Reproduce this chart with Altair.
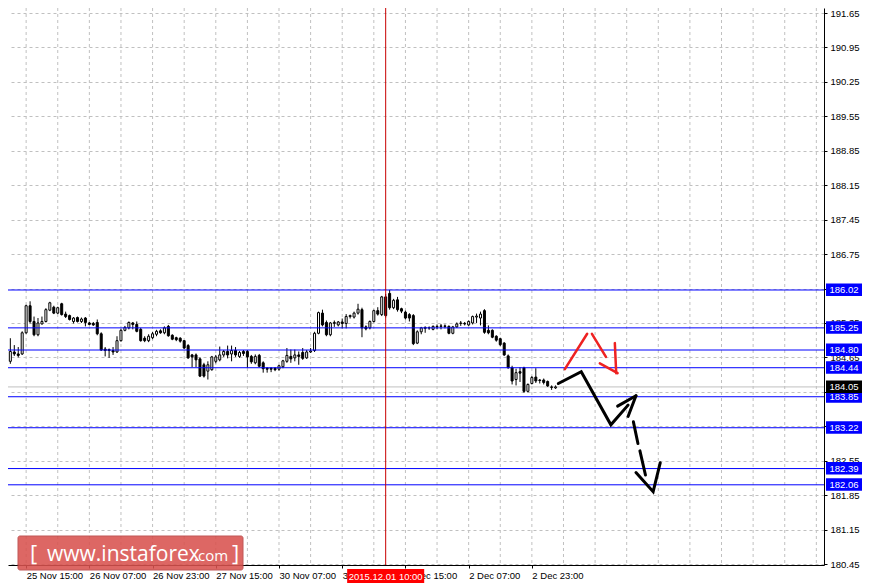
import altair as alt
import pandas as pd

# ---------------- data ----------------
opens = [184.48, 184.57, 184.76, 184.72, 184.72, 185.15, 185.70, 185.38, 185.11, 185.33,
         185.38, 185.61, 185.67, 185.55, 185.74, 185.53, 185.50, 185.38, 185.46, 185.38,
         185.45, 185.35, 185.34, 185.36, 185.13, 184.82, 184.81, 184.79, 184.76, 184.99,
         185.20, 185.25, 185.35, 185.32, 185.22, 185.04, 184.99, 185.05, 185.12, 185.19,
         185.15, 185.28, 185.10, 185.05, 185.04, 184.99, 184.89, 184.70, 184.70, 184.62,
         184.50, 184.37, 184.40, 184.57, 184.60, 184.70, 184.77, 184.72, 184.79, 184.67,
         184.77, 184.77, 184.67, 184.54, 184.69, 184.54, 184.43, 184.43, 184.43, 184.41,
         184.46, 184.57, 184.67, 184.64, 184.70, 184.75, 184.64, 184.76, 184.79, 185.14,
         185.55, 185.36, 185.11, 185.34, 185.31, 185.37, 185.34, 185.48, 185.47, 185.55,
         185.62, 185.27, 185.25, 185.38, 185.60, 185.52, 185.88, 185.95, 185.66, 185.82,
         185.64, 185.57, 185.52, 185.50, 184.94, 185.17, 185.24, 185.25, 185.22, 185.27,
         185.28, 185.29, 185.28, 185.14, 185.27, 185.34, 185.34, 185.31, 185.35, 185.47,
         185.45, 185.60, 185.20, 185.20, 185.08, 185.03, 184.94, 184.68, 184.44, 184.20,
         184.36, 184.44, 183.96, 184.12, 184.25, 184.19, 184.19, 184.16, 184.05, 184.03]
highs = [184.67, 185.04, 184.90, 184.86, 185.18, 185.72, 185.79, 185.48, 185.45, 185.48,
         185.65, 185.78, 185.70, 185.68, 185.76, 185.58, 185.52, 185.47, 185.48, 185.46,
         185.47, 185.37, 185.37, 185.42, 185.16, 184.86, 184.83, 184.86, 185.08, 185.23,
         185.29, 185.38, 185.37, 185.38, 185.25, 185.08, 185.12, 185.17, 185.21, 185.22,
         185.28, 185.31, 185.12, 185.07, 185.06, 185.00, 184.92, 184.72, 184.73, 184.65,
         184.54, 184.57, 184.68, 184.70, 184.87, 184.80, 184.89, 184.89, 184.86, 184.78,
         184.80, 184.80, 184.70, 184.71, 184.72, 184.57, 184.45, 184.45, 184.45, 184.50,
         184.60, 184.84, 184.81, 184.81, 184.77, 184.84, 184.80, 184.84, 185.17, 185.58,
         185.62, 185.40, 185.37, 185.40, 185.39, 185.44, 185.53, 185.52, 185.58, 185.74,
         185.66, 185.30, 185.40, 185.62, 185.67, 185.90, 185.94, 186.02, 185.84, 185.88,
         185.66, 185.60, 185.55, 185.53, 185.20, 185.27, 185.28, 185.28, 185.30, 185.32,
         185.33, 185.32, 185.30, 185.29, 185.36, 185.39, 185.37, 185.40, 185.50, 185.54,
         185.58, 185.63, 185.30, 185.22, 185.10, 185.05, 184.96, 184.71, 184.48, 184.42,
         184.45, 184.46, 184.12, 184.27, 184.43, 184.21, 184.22, 184.18, 184.08, 184.08]
lows = [184.45, 184.52, 184.68, 184.65, 184.70, 185.13, 185.34, 185.08, 185.08, 185.32,
        185.36, 185.59, 185.53, 185.53, 185.50, 185.45, 185.40, 185.34, 185.36, 185.35,
        185.28, 185.30, 185.29, 185.10, 184.78, 184.67, 184.64, 184.70, 184.74, 184.97,
        185.18, 185.22, 185.22, 185.16, 184.97, 184.96, 184.96, 185.02, 185.08, 185.13,
        185.12, 185.07, 185.00, 184.98, 184.95, 184.82, 184.62, 184.45, 184.45, 184.25,
        184.24, 184.20, 184.38, 184.53, 184.57, 184.66, 184.63, 184.57, 184.66, 184.64,
        184.68, 184.44, 184.52, 184.51, 184.45, 184.34, 184.34, 184.35, 184.37, 184.38,
        184.43, 184.54, 184.54, 184.57, 184.50, 184.60, 184.62, 184.74, 184.76, 185.12,
        185.28, 185.08, 185.08, 185.27, 185.28, 185.24, 185.24, 185.44, 185.44, 185.52,
        185.06, 185.20, 185.22, 185.36, 185.50, 185.49, 185.46, 185.62, 185.63, 185.58,
        185.55, 185.42, 185.38, 184.90, 184.92, 185.12, 185.15, 185.21, 185.20, 185.22,
        185.22, 185.24, 185.12, 185.12, 185.25, 185.29, 185.30, 185.29, 185.32, 185.35,
        185.30, 185.13, 185.12, 185.04, 184.97, 184.88, 184.68, 184.42, 184.10, 184.08,
        184.15, 183.93, 183.94, 184.10, 184.13, 184.12, 184.10, 184.05, 183.99, 184.01]
closes = [184.57, 184.77, 184.72, 184.69, 185.15, 185.70, 185.38, 185.11, 185.35, 185.38,
          185.62, 185.76, 185.55, 185.66, 185.52, 185.48, 185.42, 185.45, 185.38, 185.43,
          185.36, 185.32, 185.31, 185.13, 184.80, 184.79, 184.79, 184.76, 184.99, 185.20,
          185.26, 185.36, 185.32, 185.18, 184.99, 184.99, 185.08, 185.13, 185.18, 185.15,
          185.25, 185.09, 185.02, 185.01, 184.98, 184.84, 184.64, 184.66, 184.60, 184.27,
          184.27, 184.50, 184.66, 184.66, 184.70, 184.77, 184.70, 184.79, 184.70, 184.75,
          184.73, 184.66, 184.56, 184.67, 184.47, 184.42, 184.41, 184.41, 184.40, 184.48,
          184.58, 184.69, 184.62, 184.70, 184.67, 184.63, 184.76, 184.78, 185.14, 185.56,
          185.31, 185.11, 185.35, 185.36, 185.37, 185.34, 185.48, 185.50, 185.55, 185.63,
          185.25, 185.23, 185.38, 185.60, 185.53, 185.88, 185.50, 185.66, 185.81, 185.62,
          185.59, 185.45, 185.45, 184.93, 185.17, 185.25, 185.26, 185.25, 185.28, 185.28,
          185.29, 185.28, 185.14, 185.27, 185.33, 185.35, 185.33, 185.38, 185.48, 185.49,
          185.53, 185.16, 185.15, 185.06, 185.00, 184.91, 184.70, 184.44, 184.17, 184.34,
          184.33, 183.96, 184.10, 184.24, 184.17, 184.18, 184.14, 184.07, 184.04, 184.05]

time_label_bars = [5, 21, 37, 53, 69, 85, 101, 117, 133]
time_labels = ["25 Nov 15:00", "26 Nov 07:00", "26 Nov 23:00", "27 Nov 15:00",
               "30 Nov 07:00", "30 Nov 23:00", "1 Dec 15:00", "2 Dec 07:00", "2 Dec 23:00"]
grid_bars = [5, 13, 21, 29, 37, 45, 53, 61, 69, 77, 85, 93, 101, 109, 117, 125, 133,
             141, 149, 157, 165, 173, 181, 189, 197, 205]
y_ticks = [180.45, 181.15, 181.85, 182.55, 183.25, 183.95, 184.65, 185.35, 186.05,
           186.75, 187.45, 188.15, 188.85, 189.55, 190.25, 190.95, 191.65]
hidden_ticks = [183.25, 183.95, 186.05]   # fully covered by the level boxes in the picture
level_prices = [186.02, 185.25, 184.80, 184.44, 183.85, 183.22, 182.39, 182.06]
bid_price = 184.05
cursor_bar = 96
cursor_label = "2015.12.01 10:00"

red_paths = [[(141.35, 184.41), (147.0, 185.13)],
             [(148.2, 185.13), (151.75, 184.66)],
             [(150.2, 184.53), (154.7, 184.33)],
             [(154.0, 184.94), (154.35, 184.33)]]
black_paths = [[(139.7, 184.12), (145.5, 184.36), (153.0, 183.28), (157.35, 183.68)],
               [(154.7, 183.66), (159.35, 183.87)],
               [(157.35, 183.45), (159.35, 183.87)],
               [(158.7, 183.34), (159.85, 182.90)],
               [(160.35, 182.75), (161.75, 182.26)],
               [(159.35, 182.31), (163.7, 181.92), (165.5, 182.51)]]

# ---------------- layout ----------------
W, H = 816, 557
FONT = "Liberation Sans"
FS = 9.5
x_scale = alt.Scale(domain=[1.675, 205.675], nice=False, zero=False)
y_scale = alt.Scale(domain=[180.430, 191.752], nice=False, zero=False)
px_per_price = H / (191.752 - 180.430)

label_expr = "[" + ",".join("'%s'" % t for t in time_labels) + "][(datum.value - 5) / 16]"
hidden_expr = " || ".join("abs(datum.value - %s) < 0.001" % v for v in hidden_ticks)
y_label_expr = "(%s) ? '' : format(datum.value, '.2f')" % hidden_expr

x_axis = alt.Axis(values=time_label_bars, labelExpr=label_expr, orient="bottom", grid=False,
                  tickSize=3, tickColor="black", domainColor="black", labelAlign="left",
                  labelBaseline="top", labelPadding=2, labelFlush=False, labelOverlap=False,
                  labelColor="black", labelFont=FONT, labelFontSize=FS, title=None)
y_axis = alt.Axis(values=y_ticks, orient="right", labelExpr=y_label_expr, grid=True, gridColor="#c0c0c0",
                  gridDash=[3, 3], tickSize=3, tickColor="black", domainColor="black",
                  labelAlign="left", labelBaseline="middle", labelPadding=3, labelColor="black",
                  labelFont=FONT, labelFontSize=FS, title=None, labelOverlap=False, labelFlush=False)


def X(field):
    return alt.X(field, type="quantitative", scale=x_scale, axis=x_axis)


def Y(field):
    return alt.Y(field, type="quantitative", scale=y_scale, axis=y_axis)


candles = pd.DataFrame({"bar": list(range(len(opens))), "o": opens, "h": highs, "l": lows, "c": closes})
candles["top"] = candles[["o", "c"]].max(axis=1)
candles["bot"] = candles[["o", "c"]].min(axis=1)

vgrid = alt.Chart(pd.DataFrame({"bar": grid_bars})).mark_rule(
    color="#c0c0c0", strokeDash=[3, 3], strokeWidth=1).encode(x=X("bar"))

bid = alt.Chart(pd.DataFrame({"p": [bid_price]})).mark_rule(color="#c0c0c0", strokeWidth=1).encode(y=Y("p"))

wicks = alt.Chart(candles).mark_rule(color="black", strokeWidth=1, clip=True).encode(
    x=X("bar"), y=Y("l"), y2="h")
bodies = alt.Chart(candles).mark_bar(size=2, stroke="black", strokeWidth=1, clip=True).encode(
    x=X("bar"), y=Y("bot"), y2="top",
    fill=alt.condition("datum.c >= datum.o", alt.value("white"), alt.value("black")))

levels = alt.Chart(pd.DataFrame({"p": level_prices})).mark_rule(color="#0000ff", strokeWidth=1).encode(y=Y("p"))

cursor = alt.Chart(pd.DataFrame({"bar": [cursor_bar]})).mark_rule(color="#c80000", strokeWidth=1).encode(x=X("bar"))


def path_df(paths):
    rows = []
    for k, pts in enumerate(paths):
        for j, (b, p) in enumerate(pts):
            rows.append({"path": k, "ord": j, "bar": b, "p": p})
    return pd.DataFrame(rows)


red_lines = alt.Chart(path_df(red_paths)).mark_line(color="#ee2222", strokeWidth=2.5, strokeCap="round").encode(
    x=X("bar"), y=Y("p"), detail="path:N", order="ord:Q")
black_lines = alt.Chart(path_df(black_paths)).mark_line(color="black", strokeWidth=3, strokeCap="round").encode(
    x=X("bar"), y=Y("p"), detail="path:N", order="ord:Q")

# price labels on the right
lab = pd.DataFrame({"p": level_prices + [bid_price],
                    "kind": ["level"] * len(level_prices) + ["bid"]})
lab["txt"] = lab["p"].map(lambda v: "%.2f" % v)
lab["hi"] = lab["p"] + 6.5 / px_per_price
lab["lo"] = lab["p"] - 6 / px_per_price
lab_box = alt.Chart(lab).mark_rect().encode(
    x=alt.value(W + 2), x2=alt.value(W + 38), y=Y("lo"), y2="hi",
    fill=alt.condition("datum.kind == 'bid'", alt.value("black"), alt.value("#0000ff")))
lab_txt = alt.Chart(lab).mark_text(color="white", font=FONT, fontSize=FS, baseline="middle", align="center").encode(
    x=alt.value(W + 20), y=Y("p"), text="txt:N")

# cursor time label
cur = pd.DataFrame({"bar": [cursor_bar], "txt": [cursor_label]})
cur["b1"] = cur["bar"] - 9.75
cur["b2"] = cur["bar"] + 9.75
cur_box = alt.Chart(cur).mark_rect(color="#ff0000").encode(
    x=X("b1"), x2="b2", y=alt.value(H + 4), y2=alt.value(H + 18))
cur_txt = alt.Chart(cur).mark_text(color="white", font=FONT, fontSize=FS, baseline="middle", align="center").encode(
    x=X("bar"), y=alt.value(H + 11.5), text="txt:N")

# watermark
wm_box = alt.Chart(pd.DataFrame({"a": [0]})).mark_rect(
    color="#d9534f", opacity=0.88, cornerRadius=2, stroke="#b84040", strokeWidth=1).encode(
    x=alt.value(10), x2=alt.value(235), y=alt.value(528), y2=alt.value(562))
wm_parts = pd.DataFrame({"t": ["[", "www.instaforex", ".com", "]"],
                         "x": [22, 39, 186, 224], "s": [22, 21, 15, 22]})
wm_txt = alt.Chart(wm_parts).mark_text(color="white", font="Open Sans", align="left", baseline="alphabetic").encode(
    x=alt.X("x:Q", scale=None), y=alt.value(553), text="t:N", size=alt.Size("s:Q", scale=None, legend=None))

chart = alt.layer(vgrid, bid, wicks, bodies, levels, cursor, red_lines, black_lines,
                  lab_box, lab_txt, cur_box, cur_txt, wm_box, wm_txt).properties(
    width=W, height=H,
    autosize=alt.AutoSizeParams(type="none"),
    padding={"left": 0, "top": 0, "right": 42, "bottom": 18},
    background="white",
).configure_view(stroke=None)

chart.save("out.html", embed_options={"renderer": "svg", "actions": False})
